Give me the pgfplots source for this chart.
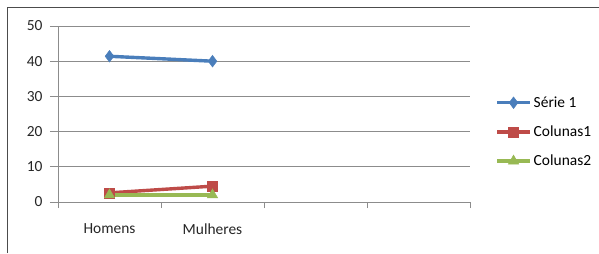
\documentclass[border=0pt]{standalone}
\usepackage{pgfplots}
\pgfplotsset{compat=1.18}
\usepackage{fontspec}
\setmainfont{Carlito}
\definecolor{sblue}{HTML}{4A7EBB}
\definecolor{sred}{HTML}{BE4B48}
\definecolor{sgreen}{HTML}{98B954}
\definecolor{gridgray}{HTML}{8C8C8C}
\begin{document}
\begin{tikzpicture}[x=1bp,y=1bp]
\useasboundingbox (0,0) rectangle (599,253);
\draw[color=black!70, line width=1.2bp] (7.5,0) -- (7.5,245.5) -- (599,245.5);
\begin{axis}[
  at={(58bp,51bp)}, anchor=south west,
  scale only axis, width=412bp, height=176bp,
  xmin=0, xmax=4, ymin=0, ymax=50,
  ytick={0,10,...,50},
  xtick={0.5,1.5}, xticklabels={Homens,Mulheres},
  minor xtick={0,1,2,3,4},
  axis x line*=bottom, axis y line*=left,
  axis line style={gridgray, line width=0.8bp, -},
  ymajorgrids, grid style={gridgray, line width=0.8bp},
  tick align=outside,
  tick style={gridgray, line width=0.8bp},
  major tick length=8bp,
  major x tick style={draw=none},
  minor tick length=6bp,
  /pgf/number format/assume math mode=true,
  tick label style={font=\fontsize{15.5}{18}\selectfont, text=black!85},
  yticklabel style={xshift=-4bp},
  xticklabel style={yshift=-10bp},
  legend style={at={(rel axis cs:1.061,0.398)}, anchor=west, draw=none, fill=none,
    inner sep=0pt, font=\fontsize{15.5}{18}\selectfont, row sep=13bp,
    legend cell align=left, nodes={inner sep=2bp}},
  legend image code/.code={
    \draw[#1, mark=none] (0bp,0bp) -- (33bp,0bp);
    \draw[#1, only marks] plot coordinates {(16.5bp,0bp)};
  },
]
\addplot[sblue, line width=3.4bp, mark=diamond*, mark size=5.8bp, mark options={solid, line width=0.5bp}]
  coordinates {(0.5,41.4) (1.5,40.0)};
\addlegendentry{Série 1}
\addplot[sred, line width=3.4bp, mark=square*, mark size=5bp, mark options={solid, line width=0.5bp}]
  coordinates {(0.5,2.6) (1.5,4.5)};
\addlegendentry{Colunas1}
\addplot[sgreen, line width=3.4bp, mark=triangle*, mark size=6bp, mark options={solid, line width=0.5bp}]
  coordinates {(0.5,2.0) (1.5,2.0)};
\addlegendentry{Colunas2}
\end{axis}
\end{tikzpicture}
\end{document}
